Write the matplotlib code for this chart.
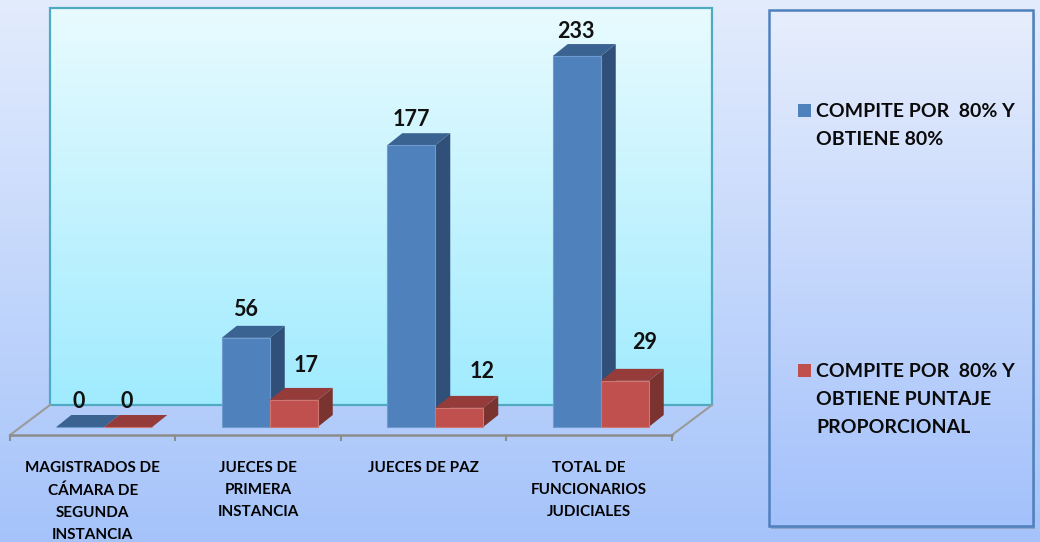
import numpy as np
import matplotlib
matplotlib.use("Agg")
import matplotlib.pyplot as plt
from matplotlib.colors import LinearSegmentedColormap
from matplotlib.patches import Polygon, Rectangle

categories = ["MAGISTRADOS DE\nCÁMARA DE\nSEGUNDA\nINSTANCIA",
              "JUECES DE\nPRIMERA\nINSTANCIA",
              "JUECES DE PAZ",
              "TOTAL DE\nFUNCIONARIOS\nJUDICIALES"]
compite_80 = [0, 56, 177, 233]
compite_prop = [0, 17, 12, 29]
legend_labels = ["COMPITE POR  80% Y\nOBTIENE 80%",
                 "COMPITE POR  80% Y\nOBTIENE PUNTAJE\nPROPORCIONAL"]

plt.rcParams['font.family'] = ['Lato', 'DejaVu Sans']

W, H = 1040, 542
fig = plt.figure(figsize=(W / 100, H / 100), dpi=100)


def gradient(ax, x0, x1, y0, y1, top, bottom, zorder=1):
    cmap = LinearSegmentedColormap.from_list("g", [top, bottom])
    ax.imshow(np.linspace(0, 1, 256).reshape(-1, 1), cmap=cmap, aspect="auto",
              extent=(x0, x1, y1, y0), zorder=zorder)


### background, in pixels
bg = fig.add_axes([0, 0, 1, 1])
gradient(bg, 0, W, 0, H, "#e3ecfd", "#a5c3fa")
# wall
gradient(bg, 50, 712, 8, 405, "#e8fbff", "#a0ebfe", zorder=2)
bg.add_patch(Rectangle((50, 8), 662, 397, fill=False, ec="#4fabc4", lw=1.6, zorder=3))
# floor sides
bg.plot([50, 10], [405, 435], color="#9a9a9a", lw=1.5, zorder=3)
bg.plot([712, 672], [405, 435], color="#9a9a9a", lw=1.5, zorder=3)
# legend panel
bg.add_patch(Rectangle((771, 13), 264, 516, fc="#7d8fae", ec="none", alpha=0.6, zorder=2))
gradient(bg, 769, 1033, 10, 526, "#e7eefd", "#a3c1fb", zorder=3)
bg.add_patch(Rectangle((769, 10), 264, 516, fill=False, ec="#4f81bd", lw=1.8, zorder=4))
bg.set_xlim(0, W)
bg.set_ylim(H, 0)
bg.axis("off")

### bars
px_per_cat = 165.5
px_per_unit = 1.592
base_px, axis_px, top_px = 427, 435, 8

ax = fig.add_axes([10 / W, 1 - axis_px / H, 662 / W, (axis_px - top_px) / H])
ax.patch.set_alpha(0)
ax.set_xlim(-0.5, 3.5)
ax.set_ylim(-(axis_px - base_px) / px_per_unit, (base_px - top_px) / px_per_unit)

x = np.arange(len(categories))
width = 48 / px_per_cat
shift = 11.5 / px_per_cat
dx = 15 / px_per_cat
dy = 12 / px_per_unit

series = [(compite_80, -width / 2, "#4f81bd", "#6f9bd0", "#3b6392", "#315079"),
          (compite_prop, width / 2, "#c0504d", "#cf7572", "#953c3a", "#7b3330")]

for values, off, front, edge, top, side in series:
    for xi, v in zip(x + shift + off, values):
        left, right = xi - width / 2, xi + width / 2
        ax.add_patch(Polygon([(right, 0), (right + dx, dy), (right + dx, v + dy), (right, v)],
                             fc=side, ec="none", zorder=3))
        ax.add_patch(Polygon([(left, v), (right, v), (right + dx, v + dy), (left + dx, v + dy)],
                             fc=top, ec="none", zorder=3))
    ax.bar(x + shift + off, values, width, color=front, edgecolor=edge, linewidth=0.8, zorder=3)

# value labels, offset from the bar centre in pixels
blue_off = [(-2, 26), (0, 28), (0, 26), (-1, 25)]
red_off = [(-2, 26), (12, 34), (23, 36), (20, 38)]
for values, off, offs in [(compite_80, -width / 2, blue_off), (compite_prop, width / 2, red_off)]:
    for xi, v, (ox, oy) in zip(x + shift + off, values, offs):
        ax.annotate(str(v), (xi, v), xytext=(ox * 0.72, oy * 0.72), textcoords="offset points",
                    ha="center", va="center", fontsize=15.5, fontweight="bold", color="#111111",
                    zorder=5)

### axis
for s in ["top", "left", "right"]:
    ax.spines[s].set_visible(False)
ax.spines["bottom"].set_color("#8c8c8c")
ax.spines["bottom"].set_linewidth(1.8)
ax.set_yticks([])
ax.set_xticks(np.arange(-0.5, 4, 1))
ax.set_xticklabels([])
ax.tick_params(axis="x", which="major", length=4, width=1.5, color="#8c8c8c")
ax.set_xticks(x, minor=True)
ax.set_xticklabels(categories, minor=True, fontsize=11, fontweight="bold", linespacing=1.72,
                   va="top")
ax.tick_params(axis="x", which="minor", length=0, pad=19)

### legend
legend_colors = ["#4f81bd", "#c0504d"]
for y, label, color in zip([103, 363], legend_labels, legend_colors):
    bg.add_patch(Rectangle((798, y + 1), 13, 13, fc=color, ec="none", zorder=5))
    bg.text(816, y, label, fontsize=14, fontweight="bold", va="top", ha="left",
            linespacing=1.8, color="#0a0a0a", zorder=5)

fig.savefig("out.png", dpi=100)
